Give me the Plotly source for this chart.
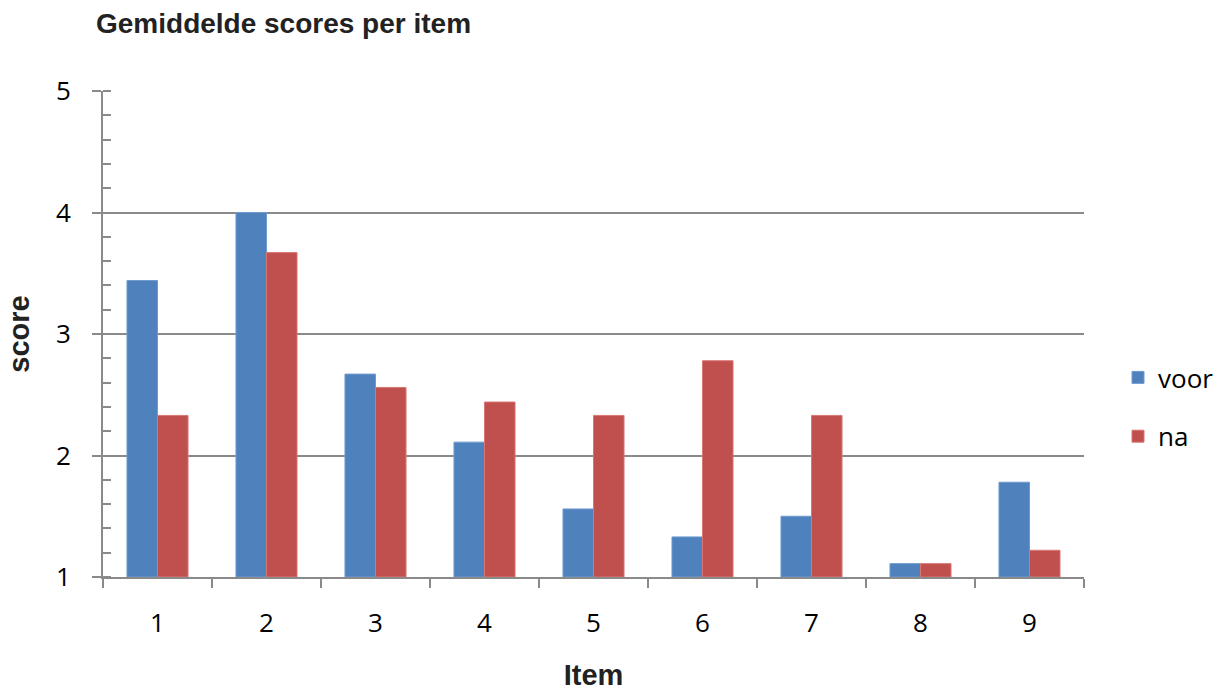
import plotly.graph_objects as go

items = ["1", "2", "3", "4", "5", "6", "7", "8", "9"]
voor = [3.44, 4.0, 2.67, 2.11, 1.56, 1.33, 1.5, 1.11, 1.78]
na = [2.33, 3.67, 2.56, 2.44, 2.33, 2.78, 2.33, 1.11, 1.22]
y_ticks = [1, 2, 3, 4, 5]

BLUE = "#4F81BD"
RED = "#C0504D"
AXIS = "#8a8a8a"

fig = go.Figure()
fig.add_trace(go.Bar(x=items, y=[v - 1 for v in voor], base=1, name="voor",
                     marker=dict(color=BLUE, line=dict(color="#6F9BD0", width=1)),
                     legendgroup="a"))
fig.add_trace(go.Bar(x=items, y=[v - 1 for v in na], base=1, name="na",
                     marker=dict(color=RED, line=dict(color="#D77775", width=1)),
                     legendgroup="b"))

fig.update_layout(
    width=1222, height=691,
    margin=dict(l=103, r=138, t=91, b=114, autoexpand=False),
    paper_bgcolor="white", plot_bgcolor="white",
    barmode="group", bargap=0.44, bargroupgap=0,
    title=dict(text="<b>Gemiddelde scores per item</b>", x=96/1222, xanchor="left",
               y=1-23/691, yanchor="middle",
               font=dict(family="Liberation Sans, Arial", size=28, color="#222")),
    legend=dict(xref="container", yref="container", x=1118/1222, y=1-407/691,
                xanchor="left", yanchor="middle",
                font=dict(family="Open Sans", size=26, color="black"),
                tracegroupgap=22, traceorder="grouped"),
    font=dict(family="Open Sans", color="black"),
)
fig.update_xaxes(
    type="category", showline=True, linecolor=AXIS, linewidth=2,
    ticks="outside", tickson="boundaries", ticklen=9, tickcolor=AXIS, tickwidth=2,
    tickfont=dict(family="Open Sans", size=26, color="black"),
    ticklabelstandoff=22,
    title=dict(text="<b>Item</b>", font=dict(family="Liberation Sans, Arial", size=29, color="#222"),
               standoff=33),
    showgrid=False, automargin=False,
)
fig.update_yaxes(
    range=[1, 5], tickvals=y_ticks, showline=True, linecolor=AXIS, linewidth=2,
    showgrid=True, gridcolor=AXIS, gridwidth=2,
    ticks="outside", ticklen=9, tickcolor=AXIS, tickwidth=2,
    minor=dict(dtick=0.2, ticks="inside", ticklen=8, tickcolor=AXIS, tickwidth=2, showgrid=False),
    tickfont=dict(family="Open Sans", size=26, color="black"),
    ticklabelstandoff=16,
    title=dict(text="<b>score</b>", font=dict(family="Liberation Sans, Arial", size=29, color="#222"),
               standoff=18),
    zeroline=False, automargin=False,
)

fig.write_html("out.html")
